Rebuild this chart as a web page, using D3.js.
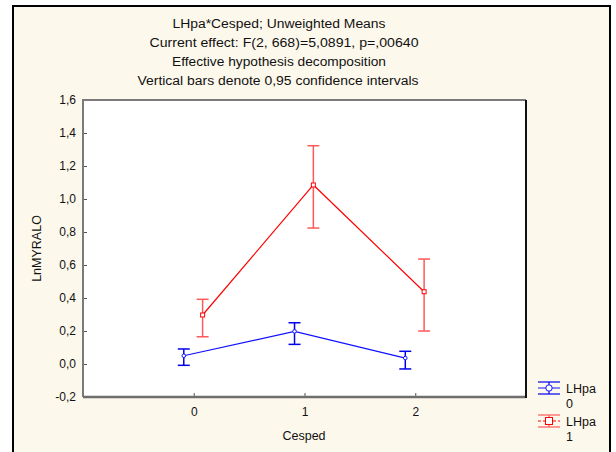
<!DOCTYPE html>
<html>
<head>
<meta charset="utf-8">
<script src="https://cdn.jsdelivr.net/npm/d3@7"></script>
<style>
  html, body { margin: 0; padding: 0; background: #ffffff; }
  svg { display: block; }
  text { font-family: "Liberation Sans", Arial, sans-serif; fill: #111; }
</style>
</head>
<body>
<svg id="chart" width="616" height="452"></svg>
<script>
// Categories of Cesped and the two LHpa groups
const categories = [0, 1, 2];
const groupNames = ["LHpa 0", "LHpa 1"];

// Unweighted means and 0,95 confidence limits, LHpa = 0
const means0 = [0.05, 0.198, 0.036];
const lower0 = [-0.008, 0.119, -0.03];
const upper0 = [0.091, 0.25, 0.077];

// Unweighted means and 0,95 confidence limits, LHpa = 1
const means1 = [0.297, 1.085, 0.438];
const lower1 = [0.165, 0.824, 0.2];
const upper1 = [0.392, 1.323, 0.636];

const yTicks = [-0.2, 0, 0.2, 0.4, 0.6, 0.8, 1.0, 1.2, 1.4, 1.6];
const xTicks = [0, 1, 2];

const titleLines = [
  "LHpa*Cesped; Unweighted Means",
  "Current effect: F(2, 668)=5,0891, p=,00640",
  "Effective hypothesis decomposition",
  "Vertical bars denote 0,95 confidence intervals"
];

const svg = d3.select("#chart");

// outer panel
svg.append("rect").attr("x", 13).attr("y", 6).attr("width", 597).attr("height", 460)
  .attr("fill", "#fdf8ec").attr("stroke", "#000").attr("stroke-width", 2);

// titles
const titleWidths = [213, 269, 214, 281];
const titleX = [279, 284, 279, 278];
titleLines.forEach((t, i) => {
  svg.append("text")
    .attr("x", titleX[i]).attr("y", 28 + i * 19)
    .attr("text-anchor", "middle")
    .attr("font-size", 12.5)
    .attr("textLength", titleWidths[i])
    .attr("lengthAdjust", "spacingAndGlyphs")
    .text(t);
});

const L = 83, R = 526, T = 100, B = 397;
const x = d3.scaleLinear().domain([-1, 3]).range([L, R]);
const y = d3.scaleLinear().domain([-0.2, 1.6]).range([B, T]);

// plot area
svg.append("rect").attr("x", L).attr("y", T).attr("width", R - L).attr("height", B - T)
  .attr("fill", "#ffffff");

// axes with inward ticks
const fmt = d => d3.format(".1f")(d).replace(".", ",").replace("−", "-");
const yAxis = svg.append("g").attr("transform", `translate(${L},0)`)
  .call(d3.axisLeft(y).tickValues(yTicks).tickSizeInner(-4).tickSizeOuter(0).tickPadding(7).tickFormat(fmt));
const xAxis = svg.append("g").attr("transform", `translate(0,${B})`)
  .call(d3.axisBottom(x).tickValues(xTicks).tickSizeInner(-4).tickSizeOuter(0).tickPadding(10).tickFormat(d3.format("d")));
[yAxis, xAxis].forEach(g => {
  g.select(".domain").remove();
  g.selectAll(".tick line").attr("stroke", "#555");
  g.selectAll(".tick text").attr("font-size", 12).attr("fill", "#111")
    .attr("font-family", "Liberation Sans, Arial, sans-serif");
});

// plot frame
svg.append("path").attr("d", `M${L},${B}V${T}H${R}`).attr("fill", "none")
  .attr("stroke", "#7a7a7a").attr("stroke-width", 2);
svg.append("line").attr("x1", L).attr("x2", R).attr("y1", B).attr("y2", B)
  .attr("stroke", "#6e6e6e").attr("stroke-width", 2.5);
svg.append("line").attr("x1", R).attr("x2", R).attr("y1", T).attr("y2", B + 1)
  .attr("stroke", "#111").attr("stroke-width", 2);

// axis titles
svg.append("text").attr("x", 304).attr("y", 440).attr("text-anchor", "middle")
  .attr("font-size", 12.5).text("Cesped");
svg.append("text").attr("transform", `translate(41,${(T + B) / 2}) rotate(-90)`)
  .attr("text-anchor", "middle").attr("font-size", 12.5).text("LnMYRALO");

// series
const series = [
  { name: groupNames[0], means: means0, lower: lower0, upper: upper0, offset: -0.09,
    line: "#1010ff", bar: "#0000ee", marker: "circle" },
  { name: groupNames[1], means: means1, lower: lower1, upper: upper1, offset: 0.08,
    line: "#ff0000", bar: "#ff5a5a", marker: "square" }
];

series.forEach(s => {
  const pts = categories.map((c, i) => ({ c: c + s.offset, m: s.means[i], lo: s.lower[i], hi: s.upper[i] }));
  const g = svg.append("g");
  g.append("path").datum(pts)
    .attr("d", d3.line().x(d => x(d.c)).y(d => y(d.m)))
    .attr("fill", "none").attr("stroke", s.line).attr("stroke-width", 1.2);
  const eb = g.selectAll(".eb").data(pts).join("g");
  eb.append("line").attr("x1", d => x(d.c)).attr("x2", d => x(d.c))
    .attr("y1", d => y(d.lo)).attr("y2", d => y(d.hi)).attr("stroke", s.bar).attr("stroke-width", 1.5);
  [d => d.lo, d => d.hi].forEach(acc => {
    eb.append("line").attr("x1", d => x(d.c) - 6).attr("x2", d => x(d.c) + 6)
      .attr("y1", d => y(acc(d))).attr("y2", d => y(acc(d))).attr("stroke", s.bar).attr("stroke-width", 1.5);
  });
  if (s.marker === "circle") {
    eb.append("circle").attr("cx", d => x(d.c)).attr("cy", d => y(d.m)).attr("r", 1.8)
      .attr("fill", "#fff").attr("stroke", s.line).attr("stroke-width", 1);
  } else {
    eb.append("rect").attr("x", d => x(d.c) - 2).attr("y", d => y(d.m) - 2).attr("width", 4).attr("height", 4)
      .attr("fill", "#fff").attr("stroke", s.line).attr("stroke-width", 1);
  }
});

// legend
const legend = svg.append("g");
series.forEach((s, i) => {
  const cy = 388 + i * 33;
  const cx = 549;
  const g = legend.append("g");
  g.append("line").attr("x1", cx - 11).attr("x2", cx + 11).attr("y1", cy - 6).attr("y2", cy - 6)
    .attr("stroke", s.bar).attr("stroke-width", 1.2);
  g.append("line").attr("x1", cx - 11).attr("x2", cx + 11).attr("y1", cy + 6).attr("y2", cy + 6)
    .attr("stroke", s.bar).attr("stroke-width", 1.2);
  g.append("line").attr("x1", cx).attr("x2", cx).attr("y1", cy - 6).attr("y2", cy + 6)
    .attr("stroke", s.bar).attr("stroke-width", 1.2);
  g.append("line").attr("x1", cx - 11).attr("x2", cx + 11).attr("y1", cy).attr("y2", cy)
    .attr("stroke", s.line).attr("stroke-width", 1)
    .attr("stroke-dasharray", i === 1 ? "3,2" : null);
  if (s.marker === "circle") {
    g.append("circle").attr("cx", cx).attr("cy", cy).attr("r", 3.2)
      .attr("fill", "#fff").attr("stroke", s.line).attr("stroke-width", 1);
  } else {
    g.append("rect").attr("x", cx - 3.5).attr("y", cy - 3.5).attr("width", 7).attr("height", 7)
      .attr("fill", "#fff").attr("stroke", s.line).attr("stroke-width", 1);
  }
  const parts = s.name.split(" ");
  g.append("text").attr("x", 566).attr("y", cy + 5).attr("font-size", 12.5).text(parts[0]);
  g.append("text").attr("x", 566).attr("y", cy + 20).attr("font-size", 12.5).text(parts[1]);
});
</script>
</body>
</html>
